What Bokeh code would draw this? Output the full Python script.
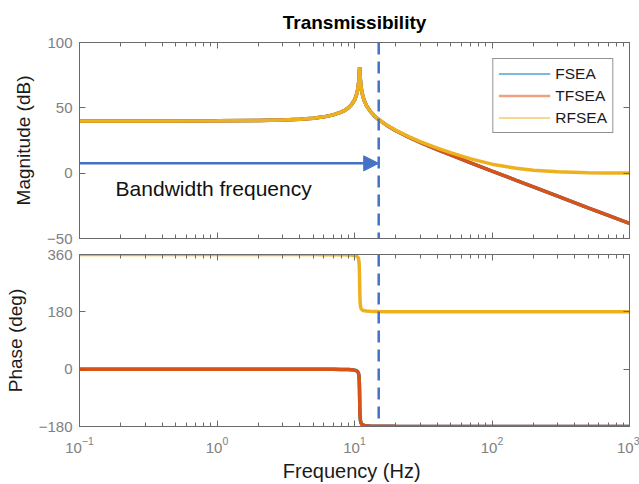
from bokeh.plotting import figure
from bokeh.layouts import column
from bokeh.models import (LogAxis, LinearAxis, Range1d, Span, Arrow, NormalHead,
                          Label, Legend, LegendItem, FixedTicker, LogTicker)
from bokeh.embed import file_html
from bokeh.resources import INLINE

# ---------------- data ----------------
freq = [0.1, 0.3, 1, 2, 3, 4, 5, 6, 7, 8, 8.5, 9, 9.5, 10, 10.3, 10.5, 10.65,
        10.75, 10.82, 10.87, 10.9, 10.93, 10.98, 11.05, 11.15, 11.3, 11.5, 11.8,
        12.2, 13, 14, 15, 17, 20, 25, 30, 40, 50, 70, 100, 150, 200, 300, 500,
        700, 1000]

fsea_mag = [40.0, 40.0, 40.1, 40.3, 40.7, 41.3, 42.1, 43.1, 44.6, 46.7, 48.1,
            49.9, 52.4, 56.0, 59.4, 62.8, 66.7, 70.8, 75.3, 79.6, 80.9, 79.5,
            75.2, 70.7, 66.5, 62.5, 58.9, 55.3, 51.9, 47.5, 43.7, 41.0, 36.9,
            32.5, 27.4, 23.6, 18.1, 14.0, 7.9, 1.6, -5.5, -10.5, -17.6, -26.5,
            -32.3, -38.5]
tfsea_mag = list(fsea_mag)
rfsea_mag = [40.0, 40.0, 40.1, 40.3, 40.7, 41.3, 42.1, 43.1, 44.6, 46.7, 48.1,
             49.9, 52.4, 56.0, 59.4, 62.8, 66.7, 70.8, 75.3, 79.6, 80.9, 79.5,
             75.2, 70.7, 66.5, 62.5, 58.9, 55.3, 51.9, 47.5, 43.8, 41.1, 37.0,
             32.8, 27.8, 24.2, 19.2, 15.7, 10.9, 6.9, 3.7, 2.3, 1.1, 0.4, 0.2,
             0.1]

fsea_phase = [0.0, 0.0, 0.0, -0.1, -0.15, -0.2, -0.3, -0.4, -0.6, -0.8, -1.0,
              -1.3, -1.9, -3.0, -4.5, -6.9, -11.0, -18.0, -31.4, -58.5, -90.0,
              -121.4, -148.4, -161.8, -168.8, -172.9, -175.2, -176.8, -177.7,
              -178.5, -179.0, -179.2, -179.4, -179.6, -179.7, -179.8, -179.8,
              -179.9, -179.9, -179.9, -180.0, -180.0, -180.0, -180.0, -180.0,
              -180.0]
tfsea_phase = list(fsea_phase)
rfsea_phase = [360.0, 360.0, 360.0, 359.9, 359.85, 359.8, 359.7, 359.6, 359.4,
               359.2, 359.0, 358.7, 358.1, 357.0, 355.5, 353.1, 349.0, 342.0,
               328.6, 301.5, 270.0, 238.6, 211.6, 198.2, 191.2, 187.1, 184.8,
               183.2, 182.3, 181.5, 181.0, 180.8, 180.6, 180.4, 180.3, 180.2,
               180.2, 180.1, 180.1, 180.1, 180.0, 180.0, 180.0, 180.0, 180.0,
               180.0]

series_names = ["FSEA", "TFSEA", "RFSEA"]
mag_ticks = [-50, 0, 50, 100]
phase_ticks = [-180, 0, 180, 360]
bandwidth_freq = 15
arrow_level = 7.5
annotation_text = "Bandwidth frequency"

# ---------------- styles ----------------
FONT = "Liberation Sans"
C_FSEA = "#0072BD"
C_TFSEA = "#D95319"
C_RFSEA = "#EDB120"
C_ANN = "#4472C4"
AX = "#6a6a6a"
TICKLAB = "#808080"
LW = 3.5


def style_axis(ax, labels=True, minor=True):
    ax.axis_line_color = AX
    ax.major_tick_line_color = AX
    ax.minor_tick_line_color = AX
    ax.major_tick_in = 6
    ax.major_tick_out = 0
    ax.minor_tick_in = 4 if minor else 0
    ax.minor_tick_out = 0
    ax.major_label_text_color = TICKLAB
    ax.major_label_text_font = FONT
    ax.major_label_text_font_size = "15px"
    ax.axis_label_text_font = FONT
    ax.axis_label_text_font_size = "19px"
    ax.axis_label_text_font_style = "normal"
    ax.axis_label_text_color = "#1a1a1a"
    if not labels:
        ax.major_label_text_font_size = "1px"
        ax.major_label_text_alpha = 0
        ax.major_label_standoff = 0


def make_fig(height, yr, yticks, top, bottom, xlabels):
    p = figure(width=639, height=height, x_axis_type="log",
               x_range=Range1d(0.1, 1000), y_range=Range1d(*yr),
               output_backend="svg", toolbar_location=None,
               min_border_left=79, min_border_right=10,
               min_border_top=top, min_border_bottom=bottom)
    p.xgrid.visible = False
    p.ygrid.visible = False
    p.outline_line_color = AX
    p.background_fill_color = "white"
    p.border_fill_color = "white"
    bottom_ax = p.below[0]
    left_ax = p.left[0]
    bottom_ax.ticker = LogTicker(num_minor_ticks=10)
    left_ax.ticker = FixedTicker(ticks=yticks)
    style_axis(bottom_ax, labels=xlabels)
    style_axis(left_ax, minor=False)
    left_ax.major_label_standoff = 7
    left_ax.axis_label_standoff = 10
    right = LinearAxis(ticker=FixedTicker(ticks=yticks))
    style_axis(right, labels=False, minor=False)
    p.add_layout(right, "right")
    above = LogAxis(ticker=LogTicker(num_minor_ticks=10))
    style_axis(above, labels=False)
    p.add_layout(above, "above")
    return p, bottom_ax, left_ax


# ---------------- magnitude ----------------
p1, b1, l1ax = make_fig(246, (-50, 100), mag_ticks, 42, 8, False)
l1ax.axis_label = "Magnitude (dB)"
p1.title.text = "Transmissibility"
p1.title.text_font = FONT
p1.title.text_font_size = "19px"
p1.title.text_font_style = "bold"
p1.title.align = "center"
p1.title.text_color = "black"
p1.title.standoff = 19

p1.line(freq, fsea_mag, line_color=C_FSEA, line_width=LW)
p1.line(freq, tfsea_mag, line_color=C_TFSEA, line_width=LW)
p1.line(freq, rfsea_mag, line_color=C_RFSEA, line_width=LW)

# legend samples (thin lines, as in the reference legend)
l1 = p1.line([1], [200], line_color=C_FSEA, line_width=1.2)
l2 = p1.line([1], [200], line_color="#EFA080", line_width=2.5)
l3 = p1.line([1], [200], line_color=C_RFSEA, line_width=1.2)
legend = Legend(items=[LegendItem(label=series_names[0], renderers=[l1]),
                       LegendItem(label=series_names[1], renderers=[l2]),
                       LegendItem(label=series_names[2], renderers=[l3])],
                location="top_right", margin=16, padding=5, spacing=3,
                glyph_width=52, glyph_height=19, label_height=19,
                label_standoff=5, label_text_font=FONT,
                label_text_font_size="15.5px", label_text_color="#1a1a1a",
                border_line_color="#262626", border_line_width=1,
                background_fill_color="white", background_fill_alpha=1)
p1.add_layout(legend)

p1.add_layout(Span(location=bandwidth_freq, dimension="height",
                   line_color=C_ANN, line_width=2.5, line_dash="12 7"))
p1.add_layout(Arrow(x_start=0.1, y_start=arrow_level, x_end=bandwidth_freq,
                    y_end=arrow_level, line_color=C_ANN, line_width=2.5,
                    end=NormalHead(size=15, fill_color=C_ANN,
                                   line_color=C_ANN, line_width=1)))
p1.add_layout(Label(x=0.183, y=-12, text=annotation_text, text_font=FONT,
                    text_font_size="21px", text_color="#111111",
                    text_align="left", text_baseline="middle"))

# ---------------- phase ----------------
p2, b2, l2ax = make_fig(238, (-180, 360), phase_ticks, 8, 57, True)
l2ax.axis_label = "Phase (deg)"
b2.axis_label = "Frequency  (Hz)"
b2.axis_label_text_font_size = "20px"
b2.major_label_standoff = 10
b2.axis_label_standoff = 4

p2.line(freq, fsea_phase, line_color=C_FSEA, line_width=LW)
p2.line(freq, tfsea_phase, line_color=C_TFSEA, line_width=LW)
p2.line(freq, rfsea_phase, line_color=C_RFSEA, line_width=LW)
p2.add_layout(Span(location=bandwidth_freq, dimension="height",
                   line_color=C_ANN, line_width=2.5, line_dash="12 7"))

layout = column(p1, p2, spacing=0)
open("out.html", "w").write(file_html(layout, INLINE))
